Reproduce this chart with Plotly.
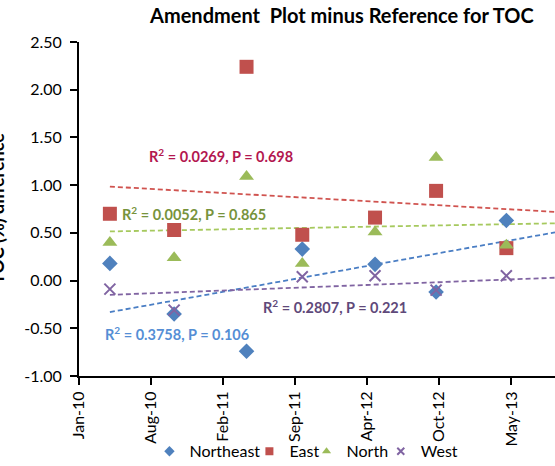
import pandas as pd
import plotly.graph_objects as go

# ---- data ----
sample_dates = ["2010-04-10", "2010-10-08", "2011-04-30", "2011-10-04",
                "2012-04-26", "2012-10-15", "2013-05-01"]
northeast = [0.18, -0.35, -0.74, 0.33, 0.17, -0.12, 0.63]
east      = [0.70, 0.53, 2.24, 0.48, 0.66, 0.94, 0.34]
north     = [0.40, 0.24, 1.09, 0.18, 0.51, 1.29, 0.37]
west      = [-0.09, -0.31, None, 0.04, 0.05, -0.10, 0.05]

series_names = ["Northeast", "East", "North", "West"]
# trend line values at first sample date and at the axis end
trend_start = [-0.33, 0.985, 0.515, -0.15]
trend_end   = [0.505, 0.72, 0.60, 0.03]
stats_text = ["R<sup>2</sup> = 0.3758, P = 0.106",
              "R<sup>2</sup> = 0.0269, P = 0.698",
              "R<sup>2</sup> = 0.0052, P = 0.865",
              "R<sup>2</sup> = 0.2807, P = 0.221"]

x_tick_labels = ["Jan-10", "Aug-10", "Feb-11", "Sep-11", "Apr-12", "Oct-12", "May-13"]
y_tick_values = [-1.0, -0.5, 0.0, 0.5, 1.0, 1.5, 2.0, 2.5]
y_tick_labels = ["-1.00", "-0.50", "0.00", "0.50", "1.00", "1.50", "2.00", "2.50"]

# ---- axis configuration ----
axis_start = pd.Timestamp("2010-01-13")
axis_end = pd.Timestamp("2013-09-15")
tick_step_days = 203
tick_vals = [axis_start + pd.Timedelta(days=tick_step_days * i) for i in range(len(x_tick_labels))]

marker_colors = ["#4F81BD", "#C0504D", "#9BBB59", "#8064A2"]
line_colors = ["#4A7EC4", "#D0534F", "#A6C95E", "#8064A2"]
label_colors = ["#558ED5", "#B3174F", "#77933C", "#5F497A"]
symbols = ["diamond", "square", "triangle-up", "x-thin-open"]
sizes = [12, 14, 13, 11]

FONT = "Lato, 'Open Sans', Arial, sans-serif"

fig = go.Figure()
dates = pd.to_datetime(sample_dates)
all_values = [northeast, east, north, west]

for lc, y0, y1 in zip(line_colors, trend_start, trend_end):
    fig.add_trace(go.Scatter(
        x=[dates[0], axis_end], y=[y0, y1],
        mode="lines", line=dict(color=lc, width=1.8, dash="5px,3px"),
        showlegend=False, hoverinfo="skip"))

legend_ids = ["legend", "legend2", "legend3", "legend4"]
for name, vals, mc, sym, sz, lg in zip(series_names, all_values, marker_colors,
                                       symbols, sizes, legend_ids):
    mk = dict(symbol=sym, size=sz, color=mc)
    if sym == "x-thin-open":
        mk["line"] = dict(color=mc, width=2)
    fig.add_trace(go.Scatter(x=dates, y=vals, mode="markers", marker=mk,
                             showlegend=False, name=name))
    lmk = dict(symbol=sym, size=8 if sym != "x-thin-open" else 7, color=mc)
    if sym == "x-thin-open":
        lmk["line"] = dict(color=mc, width=2)
    fig.add_trace(go.Scatter(x=[None], y=[None], mode="markers", marker=lmk,
                             name=name, showlegend=True, legend=lg))

# stat labels (paper coords)
label_pos = [(0.050, 0.128), (0.143, 0.661), (0.086, 0.488), (0.382, 0.207)]
for txt, col, (px, py) in zip(stats_text, label_colors, label_pos):
    fig.add_annotation(x=px, y=py, xref="paper", yref="paper", text="<b>" + txt + "</b>",
                       showarrow=False, xanchor="left", yanchor="middle",
                       font=dict(family=FONT, size=14.5, color=col))

# y axis title
fig.add_annotation(x=-0.172, y=0.5, xref="paper", yref="paper",
                   text="<b>TOC (%) difference</b>", textangle=-90, showarrow=False,
                   xanchor="center", yanchor="middle",
                   font=dict(family=FONT, size=18, color="black"))

leg_common = dict(orientation="h", xanchor="left", y=-0.2254, yanchor="middle",
                  font=dict(family=FONT, size=16, color="black"), itemwidth=30,
                  bgcolor="rgba(0,0,0,0)", borderwidth=0)
legend_x = [0.148, 0.358, 0.478, 0.634]

fig.update_layout(
    width=555, height=466,
    margin=dict(l=79, r=0, t=42, b=90, autoexpand=False),
    paper_bgcolor="white", plot_bgcolor="white",
    title=dict(text="<b>Amendment  Plot minus Reference for TOC</b>",
               x=0.616, xanchor="center", y=0.966, yanchor="middle",
               font=dict(family=FONT, size=20, color="black")),
    font=dict(family=FONT, size=16, color="black"),
    legend=dict(x=legend_x[0], **leg_common),
    legend2=dict(x=legend_x[1], **leg_common),
    legend3=dict(x=legend_x[2], **leg_common),
    legend4=dict(x=legend_x[3], **leg_common),
)
fig.update_xaxes(type="date", range=[axis_start, axis_end],
                 tickvals=tick_vals, ticktext=x_tick_labels, tickangle=-90,
                 showgrid=False, zeroline=False, showline=True, linecolor="black",
                 linewidth=2, ticks="outside", ticklen=7, tickwidth=1.5, tickcolor="black",
                 tickfont=dict(family=FONT, size=16))
fig.update_yaxes(range=[-1.0, 2.5], tickvals=y_tick_values, ticktext=y_tick_labels,
                 showgrid=False, zeroline=False, showline=True, linecolor="black",
                 linewidth=2, ticks="outside", ticklen=7, tickwidth=1.5, tickcolor="black",
                 ticklabelstandoff=5, tickfont=dict(family=FONT, size=16))

fig.write_html("out.html", config={"displayModeBar": False},
               post_script="document.body.style.margin='0';")
